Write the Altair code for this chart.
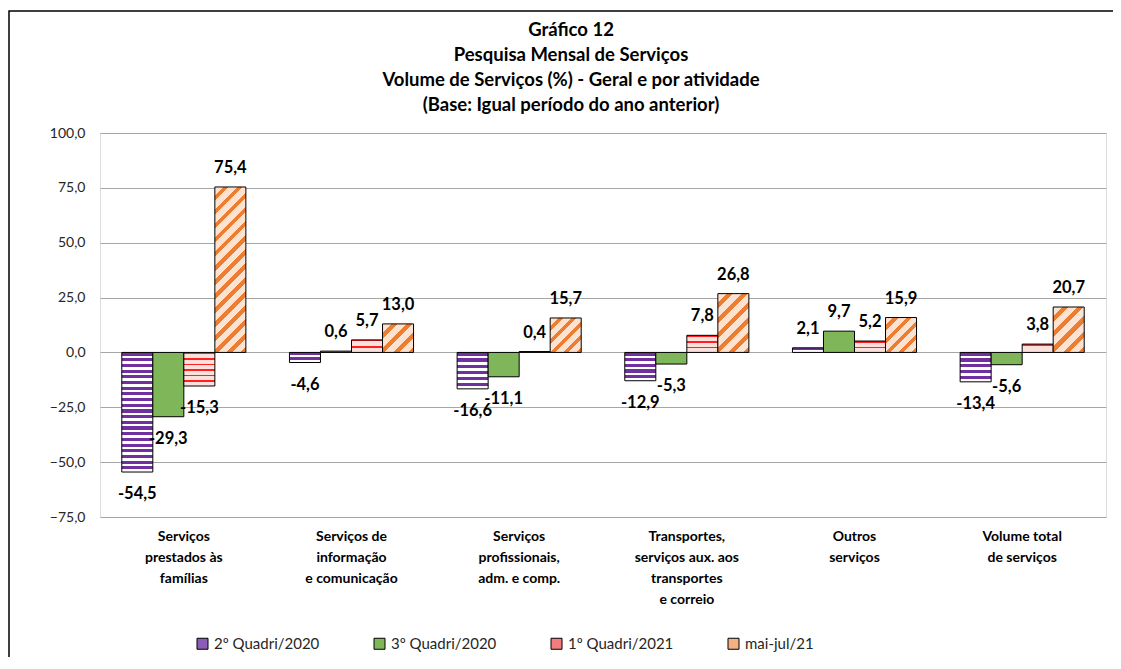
import altair as alt
import pandas as pd

# ---------------- data ----------------
categories = [
    "Serviços|prestados às|famílias",
    "Serviços de|informação|e comunicação",
    "Serviços|profissionais,|adm. e comp.",
    "Transportes,|serviços aux. aos|transportes|e correio",
    "Outros|serviços",
    "Volume total|de serviços",
]
series = ["2º Quadri/2020", "3º Quadri/2020", "1º Quadri/2021", "mai-jul/21"]
q2_2020 = [-54.5, -4.6, -16.6, -12.9, 2.1, -13.4]
q3_2020 = [-29.3, 0.6, -11.1, -5.3, 9.7, -5.6]
q1_2021 = [-15.3, 5.7, 0.4, 7.8, 5.2, 3.8]
mai_jul_21 = [75.4, 13.0, 15.7, 26.8, 15.9, 20.7]
y_ticks = [-75, -50, -25, 0, 25, 50, 75, 100]

values_by_series = [q2_2020, q3_2020, q1_2021, mai_jul_21]
rows = []
for s, vals in zip(series, values_by_series):
    for c, v in zip(categories, vals):
        rows.append({"cat": c, "series": s, "v": v,
                     "label": f"{v:.1f}".replace(".", ",")})
df = pd.DataFrame(rows)

# ---------------- layout ----------------
W, H = 1006, 384
Y_MIN, Y_MAX = -75, 100
PX_PER_UNIT = H / (Y_MAX - Y_MIN)
PAD_IN, PAD_OUT = 0.26, 0.13
STEP = W / len(categories)
BAR_W = STEP * (1 - PAD_IN) / len(series)

FONT = "Lato"

x_enc = alt.X("cat:N", sort=categories,
              scale=alt.Scale(domain=categories, paddingInner=PAD_IN, paddingOuter=PAD_OUT),
              axis=alt.Axis(title=None, labelAngle=0, ticks=False, domain=False,
                            labelExpr="split(datum.value, '|')",
                            labelFont=FONT, labelFontSize=14, labelFontWeight="bold",
                            labelColor="#000000", labelLineHeight=21, labelPadding=12,
                            labelBaseline="top"))
xo_enc = alt.XOffset("series:N", sort=series,
                     scale=alt.Scale(domain=series, paddingInner=0, paddingOuter=0))
y_enc = alt.Y("v:Q",
              scale=alt.Scale(domain=[Y_MIN, Y_MAX], nice=False, zero=False),
              axis=alt.Axis(title=None, values=y_ticks, ticks=False, domain=False,
                            grid=True, gridColor="#A6A6A6", gridWidth=1,
                            labelExpr="replace(format(datum.value, '.1f'), '.', ',')",
                            labelFont=FONT, labelFontSize=14, labelColor="#262626",
                            labelPadding=15))


def stripes(n, c1, c2, frac1):
    stops = []
    for i in range(n):
        a, b = i / n, (i + 1) / n
        m = a + (b - a) * frac1
        stops += [alt.GradientStop(offset=a, color=c1), alt.GradientStop(offset=m, color=c1),
                  alt.GradientStop(offset=m, color=c2), alt.GradientStop(offset=b, color=c2)]
    return stops


def fill_for(series_idx, v):
    h = max(abs(v) * PX_PER_UNIT, 1.0)
    w = BAR_W
    if series_idx == 0:  # purple horizontal stripes
        n = max(1, round(h / 5.8))
        return alt.LinearGradient(gradient="linear", x1=0, y1=0, x2=0, y2=1,
                                  stops=stripes(n, "#7030A0", "#FFFFFF", 0.55))
    if series_idx == 1:  # green dotted
        return "#80B65A"
    if series_idx == 2:  # red bricks
        n = max(1, round(h / 6.0))
        per = h / n
        f = min(0.5, 1.5 / per)
        return alt.LinearGradient(gradient="linear", x1=0, y1=0, x2=0, y2=1,
                                  stops=stripes(n, "#FF2020", "#FCE0DB", f))
    # orange diagonal stripes "/"
    k = (w + h) / (w * w + h * h)
    n = max(1, round((w + h) / 14.5))
    return alt.LinearGradient(gradient="linear", x1=0, y1=0, x2=k * w, y2=k * h,
                              stops=stripes(n, "#FBE2D1", "#ED7D31", 0.6))


base = alt.Chart(df)
layers = []

# legend-carrying invisible layer
legend_layer = base.mark_square(opacity=0, size=10).encode(
    x=x_enc, xOffset=xo_enc, y=y_enc,
    color=alt.Color("series:N", sort=series,
                    scale=alt.Scale(domain=series,
                                    range=["#8B5CB8", "#80B65A", "#F47C7C", "#F4B183"]),
                    legend=alt.Legend(title=None, orient="none", direction="horizontal",
                                      legendX=95, legendY=503, columns=4,
                                      symbolType="square", symbolSize=121,
                                      symbolOpacity=1, symbolStrokeColor="#000000",
                                      symbolStrokeWidth=1, labelFont=FONT,
                                      labelFontSize=15, labelColor="#262626",
                                      labelOffset=4, columnPadding=52)))
layers.append(legend_layer)

for si, (s, vals) in enumerate(zip(series, values_by_series)):
    for c, v in zip(categories, vals):
        layers.append(
            base.transform_filter(
                (alt.datum.series == s) & (alt.datum.cat == c)
            ).mark_bar(fill=fill_for(si, v), stroke="#000000", strokeWidth=1,
                       strokeOpacity=1, opacity=1).encode(
                x=x_enc, xOffset=xo_enc, y=y_enc, y2=alt.datum(0))
        )

text_pos = base.transform_filter(alt.datum.v >= 0).mark_text(
    dy=-19, baseline="middle", font=FONT, fontSize=16.5, fontWeight="bold", color="#000000"
).encode(x=x_enc, xOffset=xo_enc, y=y_enc, text="label:N")
text_neg = base.transform_filter(alt.datum.v < 0).mark_text(
    dy=22, baseline="middle", font=FONT, fontSize=16.5, fontWeight="bold", color="#000000"
).encode(x=x_enc, xOffset=xo_enc, y=y_enc, text="label:N")
layers += [text_pos, text_neg]

frame = alt.Chart(pd.DataFrame({"a": [0]})).mark_rect(
    fillOpacity=0, stroke="#000000", strokeWidth=1.5
).encode(x=alt.value(-91), x2=alt.value(W + 60), y=alt.value(-122), y2=alt.value(H + 200))
layers.append(frame)

chart = alt.layer(*layers).properties(
    width=W, height=H,
    title=alt.TitleParams(
        text=["Gráfico 12", "Pesquisa Mensal de Serviços",
              "Volume de Serviços (%) - Geral e por atividade",
              "(Base: Igual período do ano anterior)"],
        anchor="middle", dx=-32, dy=124.5, font=FONT, fontSize=18.5, fontWeight="bold",
        color="#000000", lineHeight=25, offset=20, frame="group"),
    autosize=alt.AutoSizeParams(type="none"),
    padding={"left": 92, "top": 125, "right": 7, "bottom": 140},
).configure_view(stroke="#595959", strokeWidth=1.5).configure(background="#FFFFFF")

chart.save("out.html", embed_options={"renderer": "svg", "actions": False})
